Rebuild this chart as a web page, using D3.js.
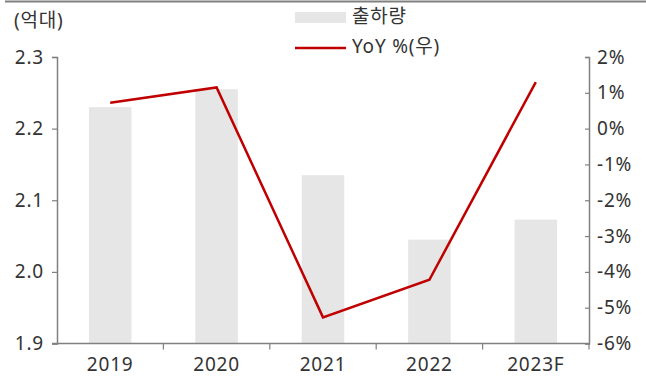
<!DOCTYPE html>
<html>
<head>
<meta charset="utf-8">
<script src="https://cdn.jsdelivr.net/npm/d3@7"></script>
<style>
  html, body { margin: 0; padding: 0; background: #fff; }
  svg text { font-family: "Noto Sans", "Noto Sans CJK KR", sans-serif; fill: #333; letter-spacing: 0.8px; }
</style>
</head>
<body>
<svg id="chart" width="646" height="380"></svg>
<script>
// Shipments (hundred million units) and YoY growth (%)
const years = ["2019", "2020", "2021", "2022", "2023F"];
const shipments = [2.23, 2.255, 2.135, 2.045, 2.073];
const yoy = [0.72, 1.15, -5.27, -4.22, 1.3];
const leftTicks = [1.9, 2.0, 2.1, 2.2, 2.3];
const rightTicks = [-6, -5, -4, -3, -2, -1, 0, 1, 2];

(function draw() {
  const svg = d3.select("#chart");
  const plotLeft = 57, plotRight = 589, plotTop = 57, plotBottom = 343.5;
  const fontSize = 19;

  // top rule
  svg.append("line")
    .attr("x1", 5).attr("x2", 646).attr("y1", 1.5).attr("y2", 1.5)
    .attr("stroke", "#808080").attr("stroke-width", 2);

  const x = d3.scaleBand().domain(years).range([plotLeft, plotRight]);
  const yL = d3.scaleLinear().domain([1.9, 2.3]).range([plotBottom, plotTop]);
  const yR = d3.scaleLinear().domain([-6, 2]).range([plotBottom, plotTop]);

  // bars
  svg.append("g").selectAll("rect")
    .data(years)
    .join("rect")
    .attr("x", (d) => x(d) + x.bandwidth() * 0.3)
    .attr("width", x.bandwidth() * 0.4)
    .attr("y", (d, i) => yL(shipments[i]))
    .attr("height", (d, i) => plotBottom - yL(shipments[i]))
    .attr("fill", "#e6e6e6");

  // axes
  const axisColor = "#808080";
  const gL = svg.append("g").attr("transform", `translate(${plotLeft},0)`)
    .call(d3.axisLeft(yL).tickValues(leftTicks).tickFormat(d3.format(".1f")).tickSize(5).tickPadding(8));
  const gR = svg.append("g").attr("transform", `translate(${plotRight},0)`)
    .call(d3.axisRight(yR).tickValues(rightTicks).tickFormat((d) => d + "%").tickSize(-4).tickPadding(8));
  const gX = svg.append("g").attr("transform", `translate(0,${plotBottom})`)
    .call(d3.axisBottom(x).tickSize(0).tickPadding(14));

  // category boundary ticks on the x axis
  svg.append("g").selectAll("line")
    .data(years)
    .join("line")
    .attr("x1", (d) => x(d) + x.bandwidth())
    .attr("x2", (d) => x(d) + x.bandwidth())
    .attr("y1", plotBottom).attr("y2", plotBottom + 6)
    .attr("stroke", axisColor).attr("stroke-width", 1.2);

  [gL, gR, gX].forEach((g) => {
    g.selectAll(".domain").attr("stroke", axisColor).attr("stroke-width", 1.5);
    g.selectAll(".tick line").attr("stroke", axisColor).attr("stroke-width", 1.2);
    g.selectAll("text").attr("font-size", fontSize).attr("fill", "#333");
  });
  gX.select(".domain").attr("d", `M${plotLeft - 5},0H${plotRight}`);

  // YoY line
  const line = d3.line()
    .x((d, i) => x(years[i]) + x.bandwidth() / 2)
    .y((d) => yR(d));
  svg.append("path")
    .datum(yoy)
    .attr("d", line)
    .attr("fill", "none")
    .attr("stroke", "#c00000")
    .attr("stroke-width", 2.5)
    .attr("stroke-linejoin", "miter");

  // unit label
  svg.append("text")
    .attr("x", 14).attr("y", 22)
    .attr("dominant-baseline", "middle")
    .attr("font-size", fontSize)
    .text("(억대)");

  // legend
  const lg = svg.append("g");
  lg.append("rect").attr("x", 295).attr("y", 12).attr("width", 51).attr("height", 11).attr("fill", "#e6e6e6");
  lg.append("text").attr("x", 352).attr("y", 18).attr("dominant-baseline", "middle").attr("font-size", fontSize).text("출하량");
  lg.append("line").attr("x1", 295).attr("x2", 346).attr("y1", 48).attr("y2", 48).attr("stroke", "#c00000").attr("stroke-width", 2.5);
  lg.append("text").attr("x", 352).attr("y", 48).attr("dominant-baseline", "middle").attr("font-size", fontSize).text("YoY %(우)");
})();
</script>
</body>
</html>
